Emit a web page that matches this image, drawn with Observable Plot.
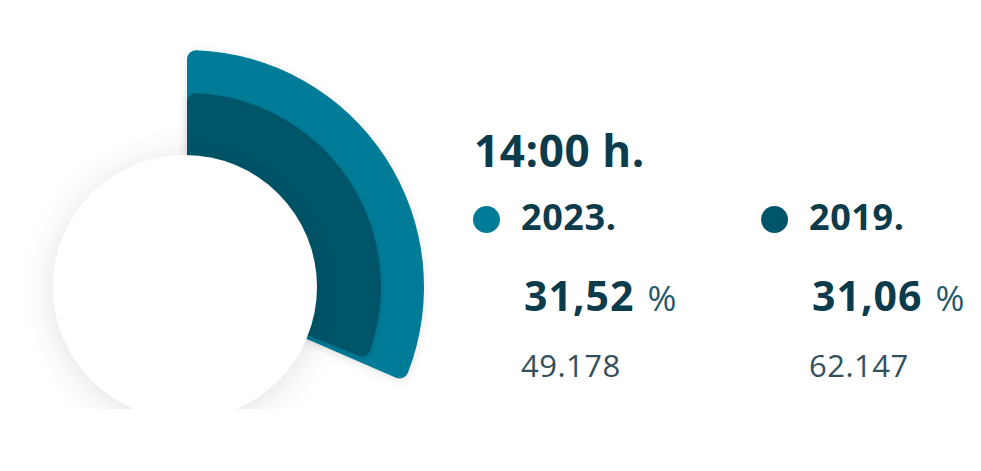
<!DOCTYPE html>
<html>
<head>
<meta charset="utf-8">
<script src="https://cdn.jsdelivr.net/npm/d3@7"></script>
<script src="https://cdn.jsdelivr.net/npm/@observablehq/plot@0.6"></script>
<style>
  html, body { margin: 0; padding: 0; background: #ffffff; }
  #wrap { position: relative; width: 981px; height: 471px; overflow: hidden; font-family: "Open Sans", sans-serif; }
  #chart { position: absolute; left: 0; top: 0; }
  .t { position: absolute; line-height: 1; white-space: nowrap; color: #0c3b4c; }
  .title { font-size: 44px; font-weight: 700; letter-spacing: 0.6px; }
  .year { font-size: 36px; font-weight: 700; letter-spacing: 0.6px; }
  .pct { font-size: 41px; font-weight: 700; letter-spacing: 1px; }
  .pct span { font-size: 35px; font-weight: 400; color: #235a6e; letter-spacing: 0; margin-left: 13px; }
  .cnt { font-size: 31px; font-weight: 400; color: #34505c; letter-spacing: 0.5px; }
  .dot { position: absolute; border-radius: 50%; }
</style>
</head>
<body>
<div id="wrap">
  <div id="chart"></div>
  <div id="legend"></div>
</div>
<script>
// ---- data ----
const hourLabel = "14:00 h.";
const years = ["2023.", "2019."];
const shares = [31.52, 31.06];      // percent
const counts = [49178, 62147];
const colors = ["#007b98", "#005469"];

// ---- scales (Observable Plot) ----
const angle = Plot.scale({x: {type: "linear", domain: [0, 100], range: [0, 2 * Math.PI]}});
const color = Plot.scale({color: {type: "ordinal", domain: years, range: colors}});
const outerRadius = Plot.scale({r: {type: "ordinal", domain: years, range: [237, 194]}});

const locale = d3.formatLocale({decimal: ",", thousands: ".", grouping: [3], currency: ["", "€"]});
const fmtPct = locale.format(".2f");
const fmtCnt = locale.format(",d");

const data = years.map((year, i) => ({year, share: shares[i], count: counts[i]}));

const W = 981, H = 409;
const cx = 187, cy = 287;

const radial = (index, scales, values, dimensions) => {
  const ns = "http://www.w3.org/2000/svg";
  const g = document.createElementNS(ns, "g");
  g.innerHTML = `
    <defs>
      <filter id="sh-arc" x="-20%" y="-20%" width="140%" height="140%">
        <feDropShadow dx="0" dy="2" stdDeviation="5" flood-color="#000" flood-opacity="0.10"/>
      </filter>
      <filter id="sh-circ" x="-40%" y="-40%" width="180%" height="180%">
        <feDropShadow dx="0" dy="4" stdDeviation="16" flood-color="#000" flood-opacity="0.12"/>
      </filter>
    </defs>`;
  const arc = d3.arc().cornerRadius(9);
  for (const d of data) {
    const p = document.createElementNS(ns, "path");
    p.setAttribute("d", arc({
      innerRadius: 100,
      outerRadius: outerRadius.apply(d.year),
      startAngle: angle.apply(0),
      endAngle: angle.apply(d.share)
    }));
    p.setAttribute("transform", `translate(${cx},${cy})`);
    p.setAttribute("fill", color.apply(d.year));
    p.setAttribute("filter", "url(#sh-arc)");
    g.appendChild(p);
  }
  const c = document.createElementNS(ns, "circle");
  c.setAttribute("cx", cx - 2);
  c.setAttribute("cy", cy);
  c.setAttribute("r", 132);
  c.setAttribute("fill", "#ffffff");
  c.setAttribute("filter", "url(#sh-circ)");
  g.appendChild(c);
  return g;
};

const chart = Plot.plot({
  width: W,
  height: H,
  margin: 0,
  style: {background: "transparent", overflow: "hidden"},
  marks: [radial]
});
document.getElementById("chart").appendChild(chart);

// ---- legend / labels ----
const legend = document.getElementById("legend");
function add(cls, html, left, baseline, size) {
  const el = document.createElement("div");
  el.className = "t " + cls;
  el.innerHTML = html;
  el.style.left = left + "px";
  el.style.top = (baseline - 0.888 * size) + "px";
  legend.appendChild(el);
}
add("title", hourLabel, 474, 167, 44);
const colX = [523, 811];
data.forEach((d, i) => {
  const x = colX[i];
  const dot = document.createElement("div");
  dot.className = "dot";
  dot.style.width = dot.style.height = "27px";
  dot.style.left = (x - 50) + "px";
  dot.style.top = (219 - 13.5) + "px";
  dot.style.background = color.apply(d.year);
  legend.appendChild(dot);
  add("year", d.year, x - 2, 231, 36);
  add("pct", `${fmtPct(d.share)}<span>%</span>`, x + 1, 311, 41);
  add("cnt", fmtCnt(d.count), x - 2, 378, 31);
});
</script>
</body>
</html>
